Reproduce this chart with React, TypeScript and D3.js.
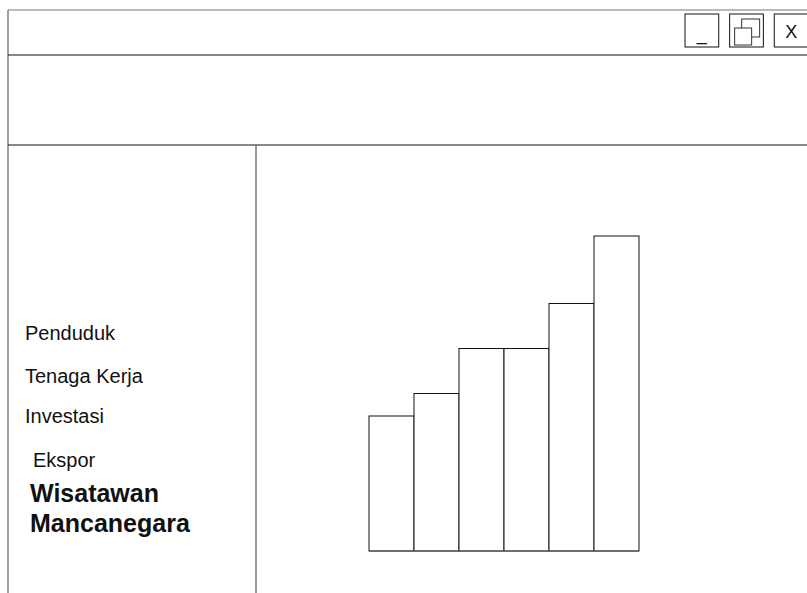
import React from "react";
import * as d3 from "d3";

const categories = ["P1", "P2", "P3", "P4", "P5", "P6"];
const values = [3, 3.5, 4.5, 4.5, 5.5, 7];
const menuItems = ["Penduduk", "Tenaga Kerja", "Investasi", "Ekspor"];
const boldItem = ["Wisatawan", "Mancanegara"];
const windowButtons = ["_", "restore", "X"];

const W = 807;
const H = 593;

export default function App() {
  const x = d3.scaleBand<string>().domain(categories).range([369, 639]).padding(0);
  const y = d3.scaleLinear().domain([0, 7]).range([551, 236]);
  const btnX = d3.scaleBand<string>().domain(windowButtons).range([685, 808]).paddingInner(11 / 45);
  const menuY = [340, 383, 423, 467];
  const menuX = [25, 25, 25, 33];
  const font = "Liberation Sans, Arial, Helvetica, sans-serif";
  return (
    <svg width={W} height={H} style={{ position: "absolute", left: 0, top: 0, background: "#fff" }} fontFamily={font}>
      {/* window frame */}
      <line x1={8} y1={10} x2={W} y2={10} stroke="#777" strokeWidth={1.2} />
      <line x1={8} y1={10} x2={8} y2={H} stroke="#777" strokeWidth={1.4} />
      <line x1={8} y1={55} x2={W} y2={55} stroke="#111" strokeWidth={1} />
      <line x1={8} y1={145} x2={W} y2={145} stroke="#111" strokeWidth={1} />
      <line x1={256} y1={145} x2={256} y2={H} stroke="#555" strokeWidth={1.2} />

      {/* window buttons */}
      {windowButtons.map((b) => {
        const bx = btnX(b)!;
        const bw = btnX.bandwidth();
        return (
          <g key={b}>
            <rect x={bx} y={14} width={bw} height={33} fill="#fff" stroke="#111" strokeWidth={1} />
            {b === "restore" ? (
              <g>
                <rect x={bx + 12} y={19} width={18} height={18} fill="#fff" stroke="#333" strokeWidth={1} />
                <rect x={bx + 5} y={28} width={17} height={17} fill="#fff" stroke="#333" strokeWidth={1} />
              </g>
            ) : (
              <text x={bx + bw / 2} y={b === "_" ? 40 : 38} textAnchor="middle" fontSize={18} fill="#111">
                {b}
              </text>
            )}
          </g>
        );
      })}

      {/* menu */}
      {menuItems.map((m, i) => (
        <text key={m} x={menuX[i]} y={menuY[i]} fontSize={20} fill="#111">
          {m}
        </text>
      ))}
      {boldItem.map((m, i) => (
        <text key={m} x={30} y={502 + i * 30} fontSize={25} fontWeight="bold" fill="#111">
          {m}
        </text>
      ))}

      {/* bars */}
      {categories.map((c, i) => (
        <rect
          key={c}
          x={x(c)!}
          y={y(values[i])}
          width={x.bandwidth()}
          height={y(0) - y(values[i])}
          fill="#fff"
          stroke="#111"
          strokeWidth={1}
        />
      ))}
      <line x1={x.range()[0]} x2={x.range()[1]} y1={y(0)} y2={y(0)} stroke="#666" strokeWidth={1.3} />
    </svg>
  );
}
